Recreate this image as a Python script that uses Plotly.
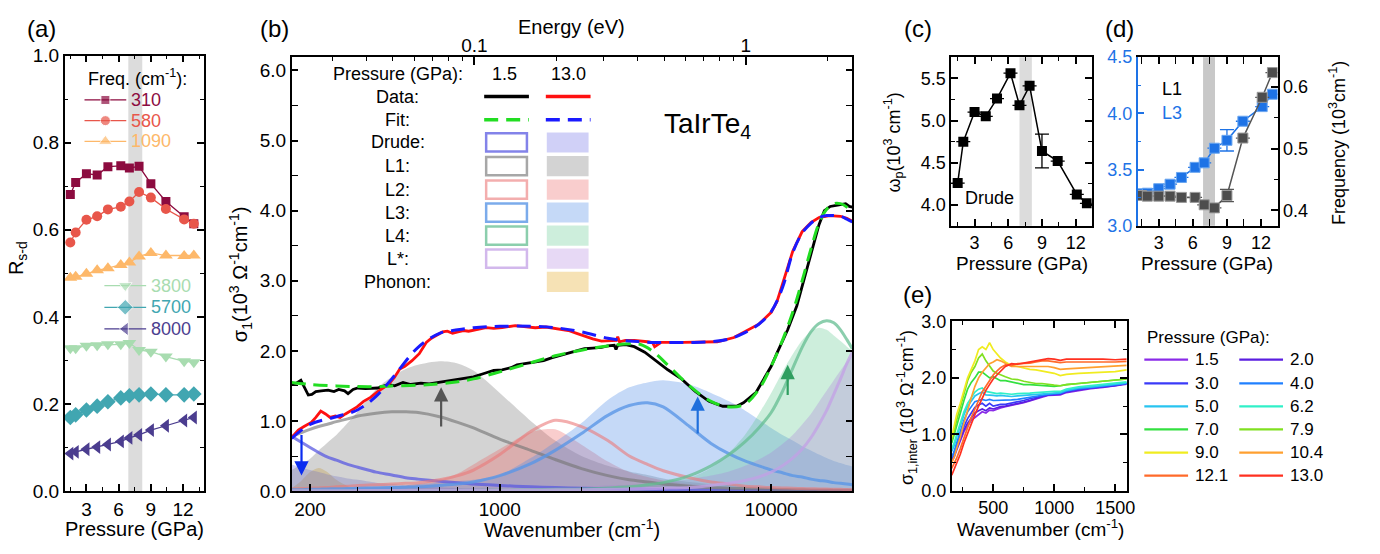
import math
import plotly.graph_objects as go

W, H = 1380, 554
FONT = "Liberation Sans, Arial, sans-serif"
EV = 8065.54  # cm^-1 per eV


def fx(p):
    return p / W


def fy(p):
    return 1 - p / H


# ---------------- (a) R_s-d versus pressure ----------------
pressure = [1.5, 2.0, 3.0, 4.0, 5.0, 6.2, 7.0, 7.9, 9.0, 10.4, 12.1, 13.0]
freq_labels = ["310", "580", "1090", "3800", "5700", "8000"]
rsd_310 = [0.681, 0.709, 0.729, 0.726, 0.745, 0.747, 0.742, 0.746, 0.706, 0.665, 0.630, 0.614]
rsd_580 = [0.571, 0.594, 0.623, 0.631, 0.647, 0.653, 0.665, 0.687, 0.674, 0.648, 0.624, 0.614]
rsd_1090 = [0.490, 0.492, 0.499, 0.507, 0.512, 0.519, 0.525, 0.539, 0.547, 0.541, 0.540, 0.541]
rsd_3800 = [0.328, 0.328, 0.334, 0.335, 0.337, 0.337, 0.340, 0.324, 0.320, 0.309, 0.298, 0.296]
rsd_5700 = [0.169, 0.175, 0.186, 0.195, 0.205, 0.214, 0.219, 0.221, 0.223, 0.221, 0.221, 0.223]
rsd_8000 = [0.086, 0.090, 0.096, 0.101, 0.107, 0.114, 0.122, 0.129, 0.140, 0.150, 0.162, 0.169]

# ---------------- (b) optical conductivity and fit components ----------------
wn_black = [171, 178, 185, 192, 197, 203, 210, 220, 233, 245, 255, 268, 276, 288, 300, 320, 340, 355,
            375, 389, 410, 440, 470, 512, 550, 590, 650, 700, 800, 880, 950, 1020, 1100, 1157, 1250,
            1350, 1450, 1550, 1650, 1790, 1900, 2050, 2200, 2370, 2500, 2640, 2680, 2720, 2910, 3130,
            3420, 3720, 4160, 4670, 5250, 5900, 6630, 7450, 7900, 8800, 10000, 10480, 11500, 12420,
            13300, 14260, 15000, 15700, 16500, 17560, 18800, 19400, 19900]
sigma_15 = [1.53, 1.54, 1.58, 1.45, 1.37, 1.38, 1.42, 1.43, 1.44, 1.42, 1.45, 1.43, 1.39, 1.45, 1.47,
            1.46, 1.47, 1.47, 1.50, 1.52, 1.50, 1.55, 1.52, 1.54, 1.53, 1.55, 1.58, 1.60, 1.63, 1.68,
            1.72, 1.73, 1.76, 1.80, 1.82, 1.84, 1.86, 1.90, 1.93, 1.97, 1.99, 2.03, 2.04, 2.05, 2.07,
            2.08, 2.02, 2.08, 2.09, 2.06, 1.98, 1.87, 1.73, 1.60, 1.42, 1.28, 1.21, 1.21, 1.26, 1.41,
            1.78, 1.96, 2.30, 2.64, 3.05, 3.50, 3.80, 4.00, 4.06, 4.08, 4.10, 4.06, 4.05]

wn_red = [171, 176, 181, 190, 202, 210, 219, 228, 237, 248, 258, 270, 281, 298, 315, 335, 355, 372,
          389, 409, 428, 447, 475, 505, 536, 560, 587, 615, 641, 670, 701, 735, 768, 826, 890, 950,
          1020, 1140, 1250, 1350, 1480, 1620, 1790, 1920, 2050, 2200, 2370, 2550, 2690, 2720, 2760,
          2900, 3130, 3500, 3650, 3720, 3800, 3930, 4750, 5500, 6330, 7290, 7700, 8000, 9000, 10000,
          10500, 11000, 12000, 13000, 14000, 15000, 16400, 18000, 19000, 19900]
sigma_130 = [0.76, 0.82, 0.87, 0.92, 0.98, 1.05, 1.14, 1.10, 1.05, 1.07, 1.05, 1.10, 1.14, 1.20, 1.28,
             1.34, 1.42, 1.47, 1.52, 1.62, 1.74, 1.78, 1.86, 1.96, 2.12, 2.18, 2.22, 2.27, 2.28, 2.25,
             2.27, 2.29, 2.28, 2.30, 2.33, 2.32, 2.33, 2.36, 2.34, 2.33, 2.34, 2.32, 2.29, 2.25, 2.21,
             2.17, 2.14, 2.14, 2.15, 2.20, 2.13, 2.15, 2.15, 2.13, 2.12, 2.06, 2.08, 2.12, 2.12, 2.12,
             2.13, 2.19, 2.24, 2.28, 2.38, 2.55, 2.70, 2.95, 3.42, 3.70, 3.83, 3.90, 3.93, 3.92, 3.89,
             3.85]

wn_fit = [171, 200, 250, 300, 350, 400, 500, 600, 700, 800, 1000, 1300, 1600, 2000, 2500, 3000, 3300,
          3700, 4200, 5000, 6000, 7000, 8000, 9000, 10000, 11000, 12000, 13000, 14000, 15000, 16000,
          17000, 18000, 19000, 19900]
fit_15 = [1.55, 1.52, 1.50, 1.49, 1.49, 1.50, 1.51, 1.53, 1.56, 1.60, 1.70, 1.83, 1.93, 2.01, 2.07,
          2.10, 2.09, 1.98, 1.78, 1.50, 1.28, 1.20, 1.24, 1.45, 1.78, 2.15, 2.55, 3.00, 3.45, 3.82,
          4.02, 4.10, 4.10, 4.05, 3.97]
fit_130 = [0.75, 0.95, 1.06, 1.16, 1.35, 1.60, 2.05, 2.25, 2.30, 2.33, 2.35, 2.35, 2.33, 2.27, 2.18,
           2.14, 2.13, 2.12, 2.12, 2.12, 2.13, 2.17, 2.26, 2.38, 2.56, 2.90, 3.40, 3.68, 3.82, 3.90,
           3.93, 3.93, 3.92, 3.88, 3.84]

wn_comp = [171, 185, 200, 215, 230, 250, 275, 300, 350, 400, 450, 500, 600, 700, 800, 1000, 1300,
           1600, 2000, 2500, 3000, 3500, 4000, 5000, 6000, 7000, 8000, 9000, 10000, 11000, 12000,
           13000, 14000, 15000, 16000, 17000, 18000, 19000, 19900]
phonon_130 = [0.04, 0.14, 0.27, 0.33, 0.28, 0.16, 0.07, 0.03, 0.01, 0, 0, 0, 0, 0, 0, 0, 0, 0, 0, 0,
              0, 0, 0, 0, 0, 0, 0, 0, 0, 0, 0, 0, 0, 0, 0, 0, 0, 0, 0]
drude_130 = [0.38, 0.34, 0.30, 0.27, 0.24, 0.21, 0.18, 0.16, 0.12, 0.10, 0.08, 0.07, 0.055, 0.045,
             0.04, 0.03, 0.022, 0.018, 0.014, 0.011, 0.009, 0.008, 0.007, 0.005, 0.004, 0.003, 0.003,
             0.002, 0.002, 0.002, 0.002, 0.001, 0.001, 0.001, 0.001, 0.001, 0.001, 0.001, 0.001]
drude_15 = [0.78, 0.70, 0.62, 0.55, 0.49, 0.44, 0.38, 0.34, 0.27, 0.23, 0.19, 0.17, 0.14, 0.12, 0.10,
            0.08, 0.06, 0.05, 0.04, 0.035, 0.03, 0.025, 0.02, 0.015, 0.012, 0.01, 0.009, 0.008, 0.007,
            0.006, 0.005, 0.005, 0.004, 0.004, 0.004, 0.003, 0.003, 0.003, 0.003]
l1_130 = [0.30, 0.38, 0.46, 0.58, 0.68, 0.80, 0.97, 1.14, 1.45, 1.63, 1.74, 1.80, 1.85, 1.82, 1.72,
          1.40, 1.00, 0.72, 0.50, 0.36, 0.28, 0.23, 0.18, 0.13, 0.10, 0.085, 0.07, 0.06, 0.05, 0.045,
          0.04, 0.035, 0.03, 0.028, 0.025, 0.023, 0.021, 0.02, 0.019]
l1_15 = [0.78, 0.83, 0.88, 0.92, 0.95, 0.99, 1.03, 1.07, 1.11, 1.13, 1.13, 1.12, 1.06, 0.98, 0.90,
         0.74, 0.58, 0.45, 0.32, 0.22, 0.16, 0.13, 0.10, 0.07, 0.05, 0.04, 0.035, 0.03, 0.025, 0.022,
         0.02, 0.018, 0.016, 0.015, 0.014, 0.013, 0.012, 0.011, 0.01]
l2_130 = [0.02, 0.02, 0.025, 0.027, 0.03, 0.03, 0.035, 0.04, 0.05, 0.06, 0.08, 0.10, 0.16, 0.25, 0.38,
          0.60, 0.84, 0.88, 0.66, 0.42, 0.27, 0.20, 0.15, 0.10, 0.07, 0.055, 0.045, 0.038, 0.033,
          0.03, 0.027, 0.025, 0.023, 0.021, 0.02, 0.019, 0.018, 0.017, 0.016]
l2_15 = [0.03, 0.035, 0.04, 0.045, 0.05, 0.06, 0.07, 0.08, 0.09, 0.10, 0.11, 0.12, 0.16, 0.22, 0.30,
         0.52, 0.85, 1.01, 0.92, 0.72, 0.50, 0.38, 0.29, 0.19, 0.13, 0.10, 0.07, 0.06, 0.05, 0.045,
         0.04, 0.035, 0.032, 0.03, 0.028, 0.026, 0.024, 0.022, 0.02]
l3_130 = [0.02, 0.02, 0.025, 0.027, 0.03, 0.035, 0.04, 0.05, 0.06, 0.07, 0.08, 0.10, 0.12, 0.14, 0.16,
          0.23, 0.47, 0.70, 0.97, 1.30, 1.48, 1.55, 1.58, 1.52, 1.40, 1.28, 1.15, 1.02, 0.90, 0.80,
          0.72, 0.64, 0.58, 0.52, 0.47, 0.43, 0.40, 0.37, 0.35]
l3_15 = [0.02, 0.02, 0.025, 0.027, 0.03, 0.032, 0.035, 0.04, 0.045, 0.05, 0.055, 0.06, 0.08, 0.10,
         0.13, 0.22, 0.39, 0.58, 0.82, 1.08, 1.22, 1.26, 1.20, 0.92, 0.68, 0.53, 0.43, 0.36, 0.30,
         0.26, 0.22, 0.20, 0.17, 0.15, 0.14, 0.12, 0.11, 0.10, 0.09]
l4_130 = [0, 0, 0, 0, 0, 0, 0, 0.002, 0.003, 0.004, 0.005, 0.006, 0.008, 0.01, 0.012, 0.015, 0.02,
          0.025, 0.03, 0.05, 0.07, 0.10, 0.13, 0.19, 0.33, 0.55, 0.80, 1.10, 1.40, 1.70, 1.95, 2.15,
          2.28, 2.33, 2.30, 2.22, 2.14, 2.06, 2.00]
l4_15 = [0, 0, 0, 0, 0, 0, 0, 0.002, 0.003, 0.004, 0.005, 0.006, 0.008, 0.01, 0.012, 0.015, 0.02,
         0.025, 0.03, 0.045, 0.06, 0.09, 0.12, 0.22, 0.36, 0.52, 0.70, 0.90, 1.12, 1.42, 1.75, 2.05,
         2.27, 2.39, 2.43, 2.40, 2.30, 2.16, 2.03]
lstar_130 = [0.02, 0.02, 0.02, 0.02, 0.02, 0.02, 0.02, 0.02, 0.025, 0.025, 0.03, 0.03, 0.035, 0.04,
             0.045, 0.05, 0.055, 0.06, 0.065, 0.08, 0.09, 0.10, 0.12, 0.17, 0.22, 0.28, 0.36, 0.45,
             0.55, 0.67, 0.80, 0.95, 1.10, 1.27, 1.43, 1.58, 1.72, 1.84, 1.93]
lstar_15 = [0.005, 0.005, 0.005, 0.005, 0.005, 0.005, 0.005, 0.006, 0.006, 0.007, 0.007, 0.008, 0.009,
            0.01, 0.011, 0.013, 0.015, 0.018, 0.02, 0.025, 0.03, 0.035, 0.04, 0.05, 0.08, 0.11, 0.15,
            0.20, 0.27, 0.36, 0.47, 0.60, 0.76, 0.95, 1.15, 1.38, 1.60, 1.82, 1.98]

# ---------------- (c) Drude plasma frequency ----------------
drude_wp = [4.26, 4.75, 5.10, 5.05, 5.26, 5.56, 5.18, 5.41, 4.64, 4.52, 4.125, 4.02]
drude_wp_err = [0, 0, 0, 0, 0, 0, 0, 0, 0.2, 0, 0, 0]

# ---------------- (d) oscillator frequencies ----------------
l1_freq = [0.424, 0.423, 0.423, 0.423, 0.421, 0.421, 0.409, 0.404, 0.424, 0.517, 0.583, 0.623]
l1_err = [0, 0, 0, 0, 0, 0, 0, 0, 0.01, 0, 0, 0]
l3_freq = [3.285, 3.29, 3.33, 3.37, 3.43, 3.52, 3.56, 3.69, 3.76, 3.93, 4.06, 4.17]
l3_err = [0, 0, 0, 0, 0, 0, 0, 0, 0.095, 0, 0, 0]

# ---------------- (e) interband conductivity ----------------
e_pressures = ["1.5", "2.0", "3.0", "4.0", "5.0", "6.2", "7.0", "7.9", "9.0", "10.4", "12.1", "13.0"]
wn_e = [160, 180, 200, 230, 260, 290, 320, 350, 380, 410, 440, 470, 500, 530, 560, 600, 650, 700,
        750, 800, 850, 900, 950, 1000, 1050, 1100, 1200, 1300, 1400, 1500, 1595]
sig_inter = {
    "1.5": [0.52, 0.60, 0.72, 0.90, 1.05, 1.15, 1.25, 1.30, 1.35, 1.40, 1.38, 1.43, 1.42, 1.45, 1.47,
            1.49, 1.51, 1.53, 1.56, 1.59, 1.63, 1.66, 1.69, 1.69, 1.70, 1.74, 1.78, 1.81, 1.83, 1.86, 1.89],
    "2.0": [0.55, 0.62, 0.75, 0.92, 1.08, 1.20, 1.30, 1.38, 1.42, 1.45, 1.42, 1.47, 1.45, 1.47, 1.49,
            1.50, 1.52, 1.54, 1.57, 1.60, 1.64, 1.67, 1.70, 1.70, 1.71, 1.75, 1.79, 1.82, 1.84, 1.86, 1.90],
    "3.0": [0.58, 0.68, 0.80, 1.00, 1.15, 1.28, 1.38, 1.48, 1.52, 1.55, 1.50, 1.55, 1.50, 1.52, 1.53,
            1.53, 1.55, 1.57, 1.60, 1.63, 1.66, 1.68, 1.70, 1.71, 1.72, 1.76, 1.80, 1.82, 1.84, 1.87, 1.90],
    "4.0": [0.60, 0.70, 0.85, 1.05, 1.25, 1.40, 1.50, 1.58, 1.60, 1.62, 1.60, 1.62, 1.60, 1.60, 1.61,
            1.60, 1.61, 1.62, 1.64, 1.66, 1.68, 1.70, 1.71, 1.72, 1.73, 1.77, 1.81, 1.83, 1.85, 1.87, 1.90],
    "5.0": [0.70, 0.80, 0.95, 1.15, 1.35, 1.50, 1.60, 1.68, 1.72, 1.75, 1.70, 1.70, 1.69, 1.68, 1.69,
            1.68, 1.67, 1.68, 1.69, 1.70, 1.71, 1.72, 1.73, 1.73, 1.74, 1.78, 1.82, 1.84, 1.86, 1.88, 1.91],
    "6.2": [0.75, 0.85, 1.00, 1.20, 1.40, 1.55, 1.65, 1.75, 1.80, 1.82, 1.76, 1.75, 1.74, 1.72, 1.73,
            1.72, 1.71, 1.72, 1.72, 1.73, 1.74, 1.75, 1.76, 1.76, 1.76, 1.80, 1.84, 1.86, 1.88, 1.90, 1.93],
    "7.0": [0.85, 1.00, 1.15, 1.40, 1.60, 1.80, 1.92, 2.00, 2.10, 2.10, 2.05, 2.00, 2.02, 1.98, 1.95,
            1.95, 1.93, 1.90, 1.88, 1.88, 1.87, 1.86, 1.86, 1.85, 1.86, 1.88, 1.90, 1.92, 1.94, 1.96, 1.98],
    "7.9": [0.90, 1.05, 1.25, 1.50, 1.75, 1.95, 2.10, 2.20, 2.35, 2.42, 2.30, 2.20, 2.12, 2.08, 2.05,
            2.02, 1.98, 1.97, 1.94, 1.92, 1.90, 1.90, 1.88, 1.87, 1.86, 1.88, 1.90, 1.92, 1.94, 1.96, 1.98],
    "9.0": [0.95, 1.15, 1.35, 1.55, 1.80, 2.00, 2.15, 2.30, 2.50, 2.55, 2.50, 2.62, 2.50, 2.42, 2.35,
            2.28, 2.22, 2.20, 2.17, 2.15, 2.14, 2.12, 2.10, 2.08, 2.04, 2.06, 2.08, 2.09, 2.10, 2.11, 2.14],
    "10.4": [0.50, 0.60, 0.75, 0.95, 1.20, 1.45, 1.65, 1.85, 2.00, 2.10, 2.18, 2.25, 2.28, 2.32, 2.30,
             2.25, 2.20, 2.20, 2.20, 2.20, 2.20, 2.19, 2.20, 2.18, 2.15, 2.16, 2.17, 2.18, 2.19, 2.20, 2.22],
    "12.1": [0.40, 0.48, 0.58, 0.75, 0.95, 1.12, 1.30, 1.45, 1.60, 1.75, 1.85, 1.95, 2.05, 2.12, 2.18,
             2.23, 2.22, 2.25, 2.25, 2.26, 2.28, 2.30, 2.30, 2.28, 2.27, 2.28, 2.28, 2.27, 2.27, 2.28, 2.29],
    "13.0": [0.28, 0.38, 0.48, 0.65, 0.85, 1.02, 1.20, 1.35, 1.50, 1.65, 1.78, 1.88, 1.98, 2.05, 2.12,
             2.20, 2.25, 2.24, 2.26, 2.28, 2.30, 2.32, 2.34, 2.33, 2.31, 2.33, 2.33, 2.34, 2.33, 2.32, 2.33],
}
e_colors = ["#8a2be8", "#5a1ee0", "#3a3af8", "#2080ff", "#28c4f0", "#30f0c8",
            "#33e040", "#80e020", "#f0ec20", "#ffa030", "#ff6a2a", "#ff3020"]

# ---------------- styling ----------------
A_COLORS = ["#8c0b3f", "#e8564a", "#fdb86a", "#a8dcb0", "#41a6b1", "#4b3d8f"]
A_SYMBOLS = ["square", "circle", "triangle-up", "triangle-down", "diamond", "triangle-left"]
A_SIZES = [9, 10, 12, 12, 12, 12]

COMP_LINE = {"Drude": "rgba(90,90,225,0.75)", "L1": "rgba(120,120,120,0.65)",
             "L2": "rgba(235,120,120,0.6)", "L3": "rgba(90,150,230,0.8)",
             "L4": "rgba(100,190,145,0.75)", "L*": "rgba(195,160,230,0.75)"}
COMP_FILL = {"Drude": "rgba(100,100,230,0.30)", "L1": "rgba(130,130,130,0.35)",
             "L2": "rgba(235,90,90,0.30)", "L3": "rgba(80,140,230,0.33)",
             "L4": "rgba(90,200,140,0.30)", "L*": "rgba(170,120,220,0.28)",
             "Phonon": "rgba(235,190,90,0.45)"}

fig = go.Figure()

# (a)
a_data = [rsd_310, rsd_580, rsd_1090, rsd_3800, rsd_5700, rsd_8000]
for i, vals in enumerate(a_data):
    col = A_COLORS[i]
    fig.add_trace(go.Scatter(
        x=pressure, y=vals, mode="lines+markers", xaxis="x", yaxis="y",
        line=dict(color=col, width=1.3),
        marker=dict(symbol=A_SYMBOLS[i], size=A_SIZES[i], color=col),
        showlegend=False, hoverinfo="skip"))

# (b) filled components at 13.0 GPa
fills = [("Phonon", phonon_130), ("Drude", drude_130), ("L1", l1_130), ("L2", l2_130),
         ("L3", l3_130), ("L4", l4_130), ("L*", lstar_130)]
for name, vals in fills:
    fig.add_trace(go.Scatter(
        x=wn_comp, y=vals, mode="lines", xaxis="x2", yaxis="y2", fill="tozeroy",
        fillcolor=COMP_FILL[name], line=dict(width=0, shape="spline", smoothing=0.8),
        showlegend=False, hoverinfo="skip"))
# (b) component curves at 1.5 GPa
outlines = [("Drude", drude_15), ("L1", l1_15), ("L2", l2_15), ("L3", l3_15),
            ("L4", l4_15), ("L*", lstar_15)]
for name, vals in outlines:
    fig.add_trace(go.Scatter(
        x=wn_comp, y=vals, mode="lines", xaxis="x2", yaxis="y2",
        line=dict(color=COMP_LINE[name], width=3, shape="spline", smoothing=0.8),
        showlegend=False, hoverinfo="skip"))
# (b) measured spectra and fits
fig.add_trace(go.Scatter(x=wn_black, y=sigma_15, mode="lines", xaxis="x2", yaxis="y2",
                         line=dict(color="black", width=2.8), showlegend=False, hoverinfo="skip"))
fig.add_trace(go.Scatter(x=wn_red, y=sigma_130, mode="lines", xaxis="x2", yaxis="y2",
                         line=dict(color="#ff1010", width=2.8), showlegend=False, hoverinfo="skip"))
fig.add_trace(go.Scatter(x=wn_fit, y=fit_15, mode="lines", xaxis="x2", yaxis="y2",
                         line=dict(color="#22dd22", width=3, dash="14px,8px", shape="spline"),
                         showlegend=False, hoverinfo="skip"))
fig.add_trace(go.Scatter(x=wn_fit, y=fit_130, mode="lines", xaxis="x2", yaxis="y2",
                         line=dict(color="#1a1aff", width=3, dash="14px,8px", shape="spline"),
                         showlegend=False, hoverinfo="skip"))
# photon-energy scale sharing the wavenumber axis
fig.add_trace(go.Scatter(x=[w / EV for w in wn_fit], y=fit_15, mode="lines", xaxis="x3", yaxis="y2",
                         line=dict(width=0), opacity=0, showlegend=False, hoverinfo="skip"))

# (c)
fig.add_trace(go.Scatter(
    x=pressure, y=drude_wp, mode="lines+markers", xaxis="x4", yaxis="y4",
    line=dict(color="black", width=1.5), marker=dict(symbol="square", size=10, color="black"),
    error_y=dict(type="data", array=drude_wp_err, visible=True, color="black", thickness=1.3, width=7),
    showlegend=False, hoverinfo="skip"))

# (d)
fig.add_trace(go.Scatter(
    x=pressure, y=l3_freq, mode="lines+markers", xaxis="x5", yaxis="y5",
    line=dict(color="#1e73e6", width=1.5),
    marker=dict(symbol="square", size=10, color="#1e73e6", line=dict(color="#6aa6f0", width=1)),
    error_y=dict(type="data", array=l3_err, visible=True, color="#1e73e6", thickness=1.3, width=7),
    showlegend=False, hoverinfo="skip"))
fig.add_trace(go.Scatter(
    x=pressure, y=l1_freq, mode="lines+markers", xaxis="x5", yaxis="y6",
    line=dict(color="#555555", width=1.5),
    marker=dict(symbol="square", size=10, color="#4d4d4d", line=dict(color="#9a9a9a", width=1)),
    error_y=dict(type="data", array=l1_err, visible=True, color="#555555", thickness=1.3, width=7),
    showlegend=False, hoverinfo="skip"))

# (e)
for p, col in zip(e_pressures, e_colors):
    fig.add_trace(go.Scatter(x=wn_e, y=sig_inter[p], mode="lines", xaxis="x6", yaxis="y7",
                             line=dict(color=col, width=1.7), showlegend=False, hoverinfo="skip"))

# (a) key: sample line with its symbol, on a page-pixel overlay
a_key_rows = [(85, 93.5), (85, 115), (85, 136.5), (105, 286.5), (105, 309), (105, 331.5)]
for i, (x0, yy) in enumerate(a_key_rows):
    fig.add_trace(go.Scatter(
        x=[x0, x0 + 21, x0 + 42], y=[yy, yy, yy], mode="lines+markers", xaxis="x7", yaxis="y8",
        line=dict(color=A_COLORS[i], width=1.3),
        marker=dict(symbol=A_SYMBOLS[i], size=[0, A_SIZES[i], 0], color=A_COLORS[i]),
        showlegend=False, hoverinfo="skip"))


def axis(domain, rng, size=18, **kw):
    d = dict(domain=domain, range=rng, showline=True, linecolor="black", linewidth=1.5,
             ticks="inside", ticklen=7, tickwidth=1.5, tickcolor="black", mirror="allticks",
             showgrid=False, zeroline=False,
             tickfont=dict(size=size, family=FONT, color="black"))
    d.update(kw)
    return d


def minor(**kw):
    d = dict(ticks="inside", ticklen=4, tickwidth=1.2, tickcolor="black", showgrid=False)
    d.update(kw)
    return d


X2_RANGE = [math.log10(171), math.log10(19900)]

layout = dict(
    width=W, height=H, margin=dict(l=0, r=0, t=0, b=0),
    plot_bgcolor="rgba(0,0,0,0)", paper_bgcolor="white", showlegend=False,
    font=dict(family=FONT, color="black", size=18),
    # (a)
    xaxis=axis([fx(65), fx(205)], [0.97, 13.93], size=19, tickvals=[3, 6, 9, 12],
               minor=minor(tickvals=[1.5, 4.5, 7.5, 10.5, 13.5]), anchor="y"),
    yaxis=axis([fy(500), fy(47.5)], [0, 1], size=19, tickvals=[0, 0.2, 0.4, 0.6, 0.8, 1.0],
               tickformat=".1f", minor=minor(dtick=0.1), anchor="x"),
    # (b)
    xaxis2=axis([fx(293.3), fx(857.3)], X2_RANGE, size=19, type="log", mirror=True,
                tickvals=[200, 1000, 10000], ticktext=["200", "1000", "10000"],
                minor=minor(tickvals=[300, 400, 500, 600, 700, 800, 900, 2000, 3000, 4000, 5000,
                                      6000, 7000, 8000, 9000]), anchor="y2"),
    yaxis2=axis([fy(500), fy(49)], [0, 6.19], size=19, dtick=1, tickformat=".1f",
                minor=minor(dtick=0.5), anchor="x2"),
    xaxis3=dict(overlaying="x2", side="top", anchor="y2", type="log",
                range=[r - math.log10(EV) for r in X2_RANGE], showline=False, showgrid=False,
                zeroline=False, ticks="inside", ticklen=8, tickwidth=1.5, tickcolor="black",
                tickvals=[0.1, 1], ticktext=["0.1", "1"],
                tickfont=dict(size=19, family=FONT, color="black"),
                minor=minor(tickvals=[0.03, 0.04, 0.05, 0.06, 0.07, 0.08, 0.09, 0.2, 0.3, 0.4,
                                      0.5, 0.6, 0.7, 0.8, 0.9, 2])),
    # (c)
    xaxis4=axis([fx(956.7), fx(1098)], [0.92, 13.42], tickvals=[3, 6, 9, 12],
                minor=minor(tickvals=[1.5, 4.5, 7.5, 10.5, 13.5]), anchor="y4"),
    yaxis4=axis([fy(224.3), fy(49)], [3.754, 5.75], tickvals=[4.0, 4.5, 5.0, 5.5],
                tickformat=".1f", minor=minor(dtick=0.25, tick0=0), anchor="x4"),
    # (d)
    xaxis5=axis([fx(1144.3), fx(1285)], [1.15, 13.45], tickvals=[3, 6, 9, 12],
                minor=minor(tickvals=[1.5, 4.5, 7.5, 10.5]), anchor="y5"),
    yaxis5=axis([fy(224.3), fy(49)], [3.0, 4.5], mirror=False, linecolor="#1e73e6",
                tickcolor="#1e73e6", dtick=0.5, tickformat=".1f",
                tickfont=dict(size=18, family=FONT, color="#1e73e6"),
                minor=minor(dtick=0.25, tick0=0, tickcolor="#1e73e6"), anchor="x5"),
    yaxis6=axis([fy(224.3), fy(49)], [0.375, 0.648], mirror=False, overlaying="y5", side="right",
                tickvals=[0.4, 0.5, 0.6], tickformat=".1f",
                minor=minor(dtick=0.05, tick0=0), anchor="x5"),
    # (e)
    xaxis6=axis([fx(957.3), fx(1133.3)], [160, 1595], tickvals=[500, 1000, 1500],
                minor=minor(tickvals=[250, 750, 1250]), anchor="y7"),
    yaxis7=axis([fy(500), fy(323.5)], [0, 3], dtick=1, tickformat=".1f",
                minor=minor(dtick=0.5), anchor="x6"),
    # page-pixel overlay for key glyphs
    xaxis7=dict(domain=[0, 1], range=[0, W], visible=False, anchor="y8", fixedrange=True),
    yaxis8=dict(domain=[0, 1], range=[H, 0], visible=False, anchor="x7", fixedrange=True),
)
fig.update_layout(**layout)

shapes = []
# pressure-induced transition region
shapes.append(dict(type="rect", xref="x", yref="y domain", x0=6.9, x1=8.2, y0=0, y1=1,
                   fillcolor="#dcdcdc", line=dict(width=0), layer="below"))
shapes.append(dict(type="rect", xref="x4", yref="y4 domain", x0=7.0, x1=8.1, y0=0, y1=1,
                   fillcolor="#dcdcdc", line=dict(width=0), layer="below"))
shapes.append(dict(type="rect", xref="x5", yref="y5 domain", x0=6.9, x1=7.95, y0=0, y1=1,
                   fillcolor="#c8c8c8", line=dict(width=0), layer="below"))

annotations = []


def text(x, y, s, size=18, color="black", xanchor="center", angle=0):
    annotations.append(dict(x=fx(x), y=fy(y), xref="paper", yref="paper", text=s, showarrow=False,
                            font=dict(size=size, family=FONT, color=color), xanchor=xanchor,
                            yanchor="middle", textangle=angle))


# (a) key text
text(86, 70.5, "Freq. (cm<sup>-1</sup>):", 18, xanchor="left")
for i, (x0, yy) in enumerate(a_key_rows):
    text(x0 + 45, yy, freq_labels[i], 18, color=A_COLORS[i], xanchor="left")

# (b) key table
text(400, 67, "Pressure (GPa):", 18)
text(507, 67, "1.5", 18)
text(572, 67, "13.0", 18)
for lab, yy in [("Data:", 90), ("Fit:", 114)]:
    text(400, yy, lab, 18)
shapes.append(dict(type="line", xref="paper", yref="paper", x0=fx(487), x1=fx(532), y0=fy(90),
                   y1=fy(90), line=dict(color="black", width=3.5)))
shapes.append(dict(type="line", xref="paper", yref="paper", x0=fx(549), x1=fx(594), y0=fy(90),
                   y1=fy(90), line=dict(color="#ff1010", width=3.5)))
shapes.append(dict(type="line", xref="paper", yref="paper", x0=fx(487), x1=fx(532), y0=fy(114),
                   y1=fy(114), line=dict(color="#22dd22", width=3.5, dash="14px,8px")))
shapes.append(dict(type="line", xref="paper", yref="paper", x0=fx(549), x1=fx(594), y0=fy(114),
                   y1=fy(114), line=dict(color="#1a1aff", width=3.5, dash="14px,8px")))
box_rows = [("Drude", 137.7), ("L1", 162.3), ("L2", 186.7), ("L3", 210.5), ("L4", 234.5),
            ("L*", 258.5), ("Phonon", 282.5)]
for name, yy in box_rows:
    text(400, yy, name + ":", 18)
    if name in COMP_LINE:
        shapes.append(dict(type="rect", xref="paper", yref="paper", x0=fx(489), x1=fx(530),
                           y0=fy(yy + 9.5), y1=fy(yy - 9.5),
                           line=dict(color=COMP_LINE[name], width=2.5), fillcolor="rgba(0,0,0,0)"))
    shapes.append(dict(type="rect", xref="paper", yref="paper", x0=fx(550), x1=fx(592),
                       y0=fy(yy + 10.5), y1=fy(yy - 10.5), line=dict(width=0),
                       fillcolor=COMP_FILL[name]))
text(712, 120, "TaIrTe<sub>4</sub>", 28)

# (b) arrows marking spectral-weight shifts: (wavenumber, tail, head, colour)
b_arrows = [(186, 0.82, 0.22, "#0a2cf0"), (608, 0.9, 1.48, "#555555"),
            (5360, 0.8, 1.35, "#1f6fdc"), (11500, 1.35, 1.8, "#2f9e60")]
for w, tail, head, col in b_arrows:
    annotations.append(dict(x=math.log10(w), y=head, ax=math.log10(w), ay=tail, xref="x2",
                            yref="y2", axref="x2", ayref="y2", text="", showarrow=True,
                            arrowhead=2, arrowsize=1.3, arrowwidth=2.2, arrowcolor=col))

# (e) key
text(1152, 340, "Pressure (GPa):", 17, xanchor="left")
e_rows = [363.5, 388, 412, 436, 460, 484]
for k, (p, col) in enumerate(zip(e_pressures, e_colors)):
    row, column = divmod(k, 2)
    x0 = 1151 if column == 0 else 1246.5
    yy = e_rows[row]
    shapes.append(dict(type="line", xref="paper", yref="paper", x0=fx(x0), x1=fx(x0 + 44),
                       y0=fy(yy), y1=fy(yy), line=dict(color=col, width=2.2)))
    text(x0 + 49, yy, p, 17, xanchor="left")

# panel letters
for s, x, y in [("(a)", 42, 19), ("(b)", 276, 19), ("(c)", 923, 19), ("(d)", 1126, 19),
                ("(e)", 923, 296)]:
    text(x, y, s, 24)

# axis titles
text(135, 539, "Pressure (GPa)", 20)
text(17, 258, "R<sub>s-d</sub>", 20, angle=-90)
text(575, 539, "Wavenumber (cm<sup>-1</sup>)", 20)
text(575, 18, "Energy (eV)", 20)
text(242, 275, "σ<sub>1</sub>(10<sup>3</sup> Ω<sup>-1</sup>cm<sup>-1</sup>)", 20, angle=-90)
text(1028, 263, "Pressure (GPa)", 19)
text(1214, 263, "Pressure (GPa)", 19)
text(899, 138, "ω<sub>p</sub>(10<sup>3</sup> cm<sup>-1</sup>)", 18, angle=-90)
text(1346, 138, "Frequency (10<sup>3</sup>cm<sup>-1</sup>)", 18, angle=-90)
text(1047, 538, "Wavenumber (cm<sup>-1</sup>)", 19)
text(912, 413, "σ<sub>1,inter</sub> (10<sup>3</sup> Ω<sup>-1</sup>cm<sup>-1</sup>)", 18, angle=-90)
text(969, 195, "Drude", 18, xanchor="left")
text(1167, 82, "L1", 18, xanchor="left")
text(1167, 107, "L3", 18, color="#1e73e6", xanchor="left")

fig.update_layout(shapes=shapes, annotations=annotations)
fig.write_html("out.html")
